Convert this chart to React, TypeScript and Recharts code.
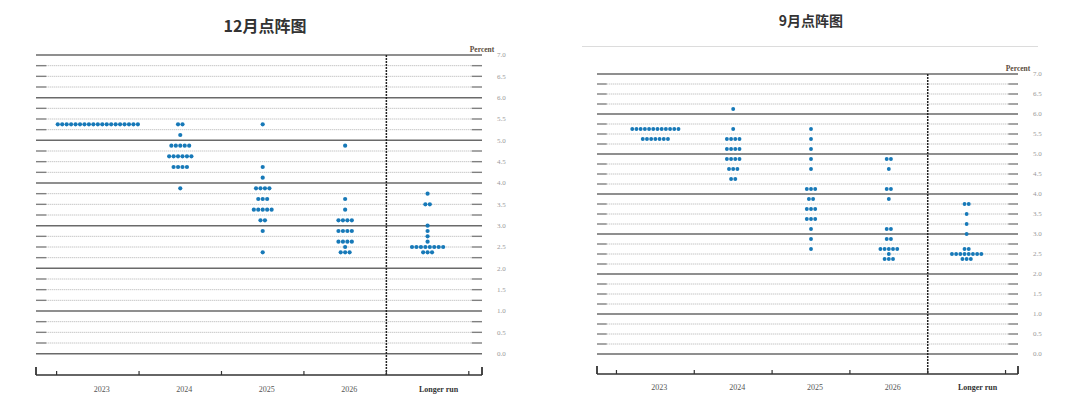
import { ScatterChart, Scatter, XAxis, YAxis, ReferenceLine } from 'recharts';

const categories = ['2023', '2024', '2025', '2026', 'Longer run'];
const rateTicks = [0, 0.5, 1, 1.5, 2, 2.5, 3, 3.5, 4, 4.5, 5, 5.5, 6, 6.5, 7];
const gridLevels = [
  0, 0.25, 0.5, 0.75, 1, 1.25, 1.5, 1.75, 2, 2.25, 2.5, 2.75, 3, 3.25, 3.5,
  3.75, 4, 4.25, 4.5, 4.75, 5, 5.25, 5.5, 5.75, 6, 6.25, 6.5, 6.75, 7,
];

// December projections: [rate, number of participants]
const dec2023 = [[5.375, 19]];
const dec2024 = [[5.375, 2], [5.125, 1], [4.875, 5], [4.625, 6], [4.375, 4], [3.875, 1]];
const dec2025 = [[5.375, 1], [4.375, 1], [4.125, 1], [3.875, 4], [3.625, 3], [3.375, 5], [3.125, 2], [2.875, 1], [2.375, 1]];
const dec2026 = [[4.875, 1], [3.625, 1], [3.375, 1], [3.125, 4], [2.875, 4], [2.625, 4], [2.5, 1], [2.375, 3]];
const decLonger = [[3.75, 1], [3.5, 2], [3.0, 1], [2.875, 1], [2.75, 1], [2.625, 1], [2.5, 8], [2.375, 3]];

// September projections
const sep2023 = [[5.625, 12], [5.375, 7]];
const sep2024 = [[6.125, 1], [5.625, 1], [5.375, 4], [5.125, 4], [4.875, 4], [4.625, 3], [4.375, 2]];
const sep2025 = [[5.625, 1], [5.375, 1], [5.125, 1], [4.875, 1], [4.625, 1], [4.125, 3], [3.875, 2], [3.625, 3], [3.375, 3], [3.125, 1], [2.875, 1], [2.625, 1]];
const sep2026 = [[4.875, 2], [4.625, 1], [4.125, 2], [3.875, 1], [3.125, 2], [2.875, 2], [2.625, 5], [2.5, 1], [2.375, 3]];
const sepLonger = [[3.75, 2], [3.5, 1], [3.25, 1], [3.0, 1], [2.625, 2], [2.5, 8], [2.375, 3]];

const X_MIN = -0.75;
const X_MAX = 4.66;
const STUB = 0.125;
const DOT_STEP = 0.054;
// boundary ticks (lines) and category centres (labels) on the same bottom axis
const axisTicks = [X_MIN, -0.5, 0, 0.5, 1, 1.5, 2, 2.5, 3, 3.5, 4, 4.5, X_MAX];
const DOT = '#1779b8';
const SERIF = '"Liberation Serif", "DejaVu Serif", serif';

function toPoints(columns: number[][][]) {
  const pts: { x: number; y: number }[] = [];
  columns.forEach((col, i) => {
    col.forEach(([rate, n]) => {
      for (let k = 0; k < n; k++) pts.push({ x: i + (k - (n - 1) / 2) * DOT_STEP, y: rate });
    });
  });
  return pts;
}

const decPoints = toPoints([dec2023, dec2024, dec2025, dec2026, decLonger]);
const sepPoints = toPoints([sep2023, sep2024, sep2025, sep2026, sepLonger]);

function DotPlot({ points, left, width, margin, dotR, labelDy }: any) {
  const ax = { xAxisId: 'x', yAxisId: 'y' };
  const renderTick = (p: any) => {
    const v = p.payload.value;
    if (Number.isInteger(v)) {
      const name = categories[v];
      const lr = name === 'Longer run';
      return (
        <text x={p.x + (lr ? 11 : 4)} y={p.y + labelDy} textAnchor="middle" fontFamily={SERIF}
          fontSize={8} fontWeight={lr ? 700 : 400} fill={lr ? '#333' : '#555'}>
          {name}
        </text>
      );
    }
    const end = v === X_MIN || v === X_MAX;
    return <line x1={p.x} x2={p.x} y1={p.y} y2={p.y - (end ? 8 : 4)} stroke="#333" strokeWidth={end ? 1.8 : 1.2} />;
  };
  return (
    <div style={{ position: 'absolute', left, top: 0 }}>
      <ScatterChart width={width} height={397} margin={margin}>
        <XAxis
          xAxisId="x" dataKey="x" type="number" domain={[X_MIN, X_MAX]} allowDataOverflow
          ticks={axisTicks} interval={0} mirror tickSize={0} tickMargin={0} tickLine={false}
          axisLine={{ stroke: '#333', strokeWidth: 1.3 }} tick={renderTick}
        />
        <YAxis
          yAxisId="y" dataKey="y" type="number" orientation="right" domain={[-0.5, 7]} allowDataOverflow
          ticks={rateTicks} interval={0} width={40} axisLine={false} tickLine={false}
          tickSize={0} tickMargin={15} tickFormatter={(v: number) => v.toFixed(1)}
          tick={{ fontSize: 7, fill: '#999', fontFamily: SERIF }}
        />
        {gridLevels.map((v) =>
          Number.isInteger(v) ? (
            <ReferenceLine key={`i${v}`} {...ax} segment={[{ x: X_MIN, y: v }, { x: X_MAX, y: v }]}
              stroke="#6a6a6a" strokeWidth={1.5} />
          ) : (
            [
              <ReferenceLine key={`d${v}`} {...ax} segment={[{ x: X_MIN + STUB, y: v }, { x: X_MAX - STUB, y: v }]}
                stroke="#b0b0b0" strokeDasharray="1 1" strokeWidth={1} />,
              <ReferenceLine key={`l${v}`} {...ax} segment={[{ x: X_MIN, y: v }, { x: X_MIN + STUB, y: v }]}
                stroke="#808080" strokeWidth={1.4} />,
              <ReferenceLine key={`r${v}`} {...ax} segment={[{ x: X_MAX - STUB, y: v }, { x: X_MAX, y: v }]}
                stroke="#808080" strokeWidth={1.4} />,
            ]
          )
        )}
        <ReferenceLine {...ax} segment={[{ x: 3.5, y: 7 }, { x: 3.5, y: -0.5 }]}
          stroke="#222" strokeWidth={1.5} strokeDasharray="2 1" />
        <Scatter
          {...ax} data={points} isAnimationActive={false}
          shape={(p: any) => <circle cx={p.cx} cy={p.cy} r={dotR} fill={DOT} />}
        />
      </ScatterChart>
    </div>
  );
}

const titleStyle: any = {
  position: 'absolute', textAlign: 'center', fontFamily: '"Noto Sans CJK SC", sans-serif',
  fontWeight: 700, color: '#333', whiteSpace: 'nowrap',
};
const pctStyle: any = {
  position: 'absolute', width: 40, textAlign: 'center', fontFamily: SERIF, fontWeight: 700,
  fontSize: 7.5, lineHeight: '8px', color: '#5b4b3b',
};

export default function App() {
  return (
    <div style={{ position: 'absolute', left: 0, top: 0, width: 1080, height: 397, background: '#fff', overflow: 'hidden' }}>
      <div style={{ ...titleStyle, left: 165, width: 200, top: 16, fontSize: 16, lineHeight: '18px' }}>12月点阵图</div>
      <div style={{ ...titleStyle, left: 711, width: 200, top: 12, fontSize: 14, lineHeight: '16px' }}>9月点阵图</div>
      <div style={{ position: 'absolute', left: 582, top: 46, width: 456, height: 1, background: '#dcdcdc' }} />
      <div style={{ ...pctStyle, left: 462, top: 46 }}>Percent</div>
      <div style={{ ...pctStyle, left: 998, top: 65 }}>Percent</div>
      <DotPlot points={decPoints} left={0} width={540}
        margin={{ top: 55, left: 36, right: 18, bottom: 22 }} dotR={2.1} labelDy={17} />
      <DotPlot points={sepPoints} left={560} width={520}
        margin={{ top: 74, left: 37, right: 22, bottom: 23 }} dotR={1.95} labelDy={15.5} />
    </div>
  );
}
